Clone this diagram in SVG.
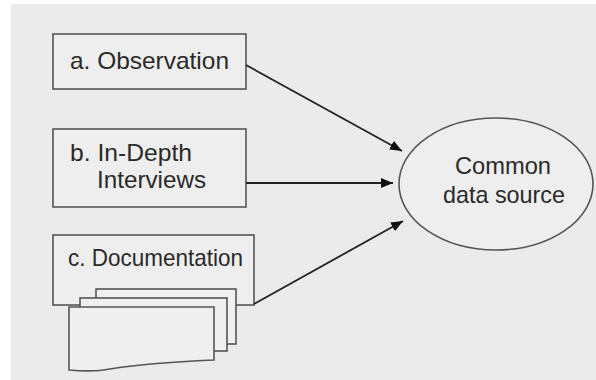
<svg xmlns="http://www.w3.org/2000/svg" width="596" height="380" viewBox="0 0 596 380">
<defs>
<style>
.box{fill:#eeeeee;stroke:#555;stroke-width:1.6}
.sheet{fill:#efefef;stroke:#555;stroke-width:1.6}
.lbl{font-family:"Liberation Sans",Arial,sans-serif;font-size:24px;fill:#2a2a2a}
.conn{stroke:#222;stroke-width:1.8;fill:none}
</style>
<marker id="ah" viewBox="0 0 12 10" refX="12" refY="5" markerWidth="12" markerHeight="10" markerUnits="userSpaceOnUse" orient="auto">
<path d="M0,0 L12,5 L0,10 Z" fill="#111"/>
</marker>
</defs>
<rect width="596" height="380" fill="#ffffff"/>
<rect x="11" y="4" width="585" height="376" fill="#ebebeb"/>
<g id="node-a">
<rect class="box" x="53" y="34" width="193" height="55"/>
<text class="lbl" x="70" y="69" textLength="159" lengthAdjust="spacingAndGlyphs">a. Observation</text>
</g>
<g id="node-b">
<rect class="box" x="53" y="129" width="193" height="78"/>
<text class="lbl" x="70" y="161" textLength="122" lengthAdjust="spacingAndGlyphs">b. In-Depth</text>
<text class="lbl" x="97" y="188" textLength="109" lengthAdjust="spacingAndGlyphs">Interviews</text>
</g>
<g id="node-c">
<rect class="box" x="53" y="235" width="201" height="70"/>
<text class="lbl" x="68" y="266" textLength="175" lengthAdjust="spacingAndGlyphs">c. Documentation</text>
<rect class="sheet" x="96" y="289" width="140" height="55"/>
<rect class="sheet" x="80" y="298" width="147" height="53"/>
<path class="sheet" d="M69,307 L214,307 L214,360 C170,362 140,364 110,369 C95,372 80,371 69,370 Z"/>
</g>
<g id="node-common">
<ellipse class="box" cx="496" cy="184" rx="97" ry="66" stroke-width="1.3"/>
<text class="lbl" x="455" y="174" textLength="96" lengthAdjust="spacingAndGlyphs">Common</text>
<text class="lbl" x="443" y="203" textLength="122" lengthAdjust="spacingAndGlyphs">data source</text>
</g>
<g id="connectors">
<line class="conn" x1="246" y1="65" x2="402" y2="151" marker-end="url(#ah)"/>
<line class="conn" x1="246" y1="183" x2="393" y2="183" marker-end="url(#ah)"/>
<line class="conn" x1="254" y1="304" x2="403" y2="221" marker-end="url(#ah)"/>
</g>
</svg>
